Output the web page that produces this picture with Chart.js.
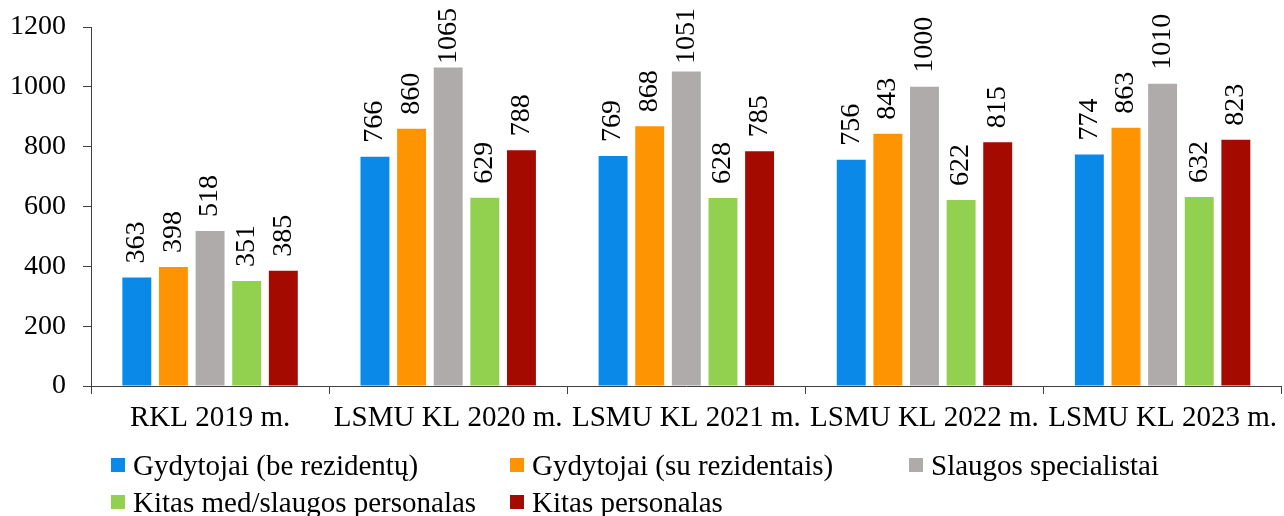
<!DOCTYPE html>
<html>
<head>
<meta charset="utf-8">
<script src="https://cdn.jsdelivr.net/npm/chart.js@4.4.1/dist/chart.umd.min.js"></script>
<style>
    body { margin: 0; background: #fff; }
    #wrap { position: relative; width: 1284px; height: 516px; }
    #legend { position: absolute; left: 0; top: 0; width: 1284px; height: 516px; pointer-events: none;
              font-family: "Liberation Serif", "Times New Roman", serif; font-size: 29px; color: #000; }
    .item { position: absolute; display: flex; align-items: center; white-space: nowrap; height: 36px; }
    .box { width: 14px; height: 14px; margin-right: 8px; }
</style>
</head>
<body>
<div id="wrap">
    <canvas id="myChart" width="1284" height="516"></canvas>
    <div id="legend"></div>
</div>
<script>
// Data
const categories = ['RKL 2019 m.', 'LSMU KL 2020 m.', 'LSMU KL 2021 m.', 'LSMU KL 2022 m.', 'LSMU KL 2023 m.'];
const seriesNames = ['Gydytojai (be rezidentų)', 'Gydytojai (su rezidentais)', 'Slaugos specialistai',
                     'Kitas med/slaugos personalas', 'Kitas personalas'];
const gydytojaiBe = [363, 766, 769, 756, 774];
const gydytojaiSu = [398, 860, 868, 843, 863];
const slaugos = [518, 1065, 1051, 1000, 1010];
const kitasMed = [351, 629, 628, 622, 632];
const kitas = [385, 788, 785, 815, 823];
const yTicks = [0, 200, 400, 600, 800, 1000, 1200];

const colors = ['#0A89E9', '#FF9402', '#AFABAB', '#92D050', '#A50A00'];
const seriesData = [gydytojaiBe, gydytojaiSu, slaugos, kitasMed, kitas];

const FONT = '"Liberation Serif", "Times New Roman", serif';
Chart.defaults.font.family = FONT;
Chart.defaults.font.size = 28;
Chart.defaults.color = '#000';

// Rotated value labels above bars
const barLabels = {
    id: 'barLabels',
    afterDatasetsDraw(chart) {
        const ctx = chart.ctx;
        ctx.save();
        ctx.font = '28px ' + FONT;
        ctx.fillStyle = '#000';
        ctx.textAlign = 'left';
        ctx.textBaseline = 'middle';
        chart.data.datasets.forEach((ds, i) => {
            chart.getDatasetMeta(i).data.forEach((bar, j) => {
                const txt = String(ds.data[j]);
                const w = ctx.measureText(txt).width;
                let start = bar.y - 14;
                if (start - w < 8) start = 8 + w;
                ctx.save();
                ctx.translate(bar.x, start);
                ctx.rotate(-Math.PI / 2);
                ctx.fillText(txt, 0, 0);
                ctx.restore();
            });
        });
        ctx.restore();
    }
};

const ctx = document.getElementById('myChart').getContext('2d');
const myChart = new Chart(ctx, {
    type: 'bar',
    data: {
        labels: categories,
        datasets: seriesData.map((d, i) => ({
            label: seriesNames[i],
            data: d,
            backgroundColor: colors[i],
            categoryPercentage: 0.769,
            barPercentage: 0.79
        }))
    },
    options: {
        responsive: false,
        animation: false,
        devicePixelRatio: 1,
        layout: { padding: { top: 27, left: 0, right: 0, bottom: 0 } },
        plugins: { legend: { display: false }, tooltip: { enabled: false } },
        scales: {
            x: {
                grid: { drawOnChartArea: false, drawTicks: true, tickLength: 8, color: '#404040', offset: true },
                border: { color: '#404040', width: 1 },
                ticks: { autoSkip: false, maxRotation: 0, padding: 7, font: { size: 29 } },
                afterFit: (scale) => { scale.height = 130; }
            },
            y: {
                min: 0,
                max: 1200,
                afterBuildTicks: (scale) => { scale.ticks = yTicks.map(v => ({ value: v })); },
                grid: { drawOnChartArea: false, drawTicks: true, tickLength: 8, color: '#404040' },
                border: { color: '#404040', width: 1 },
                ticks: { padding: 17, font: { size: 28 }, callback: (v) => String(v) },
                afterFit: (scale) => { scale.width = 91; scale.paddingTop = 0; scale.paddingBottom = 0; }
            }
        }
    },
    plugins: [barLabels]
});

// Legend (two rows, Excel-like columns)
const legendPos = [[111, 447], [510, 447], [909, 447], [111, 484], [510, 484]];
const legend = document.getElementById('legend');
seriesNames.forEach((name, i) => {
    const item = document.createElement('div');
    item.className = 'item';
    item.style.left = legendPos[i][0] + 'px';
    item.style.top = legendPos[i][1] + 'px';
    item.innerHTML = `<span class="box" style="background:${colors[i]}"></span><span>${name}</span>`;
    legend.appendChild(item);
});
</script>
</body>
</html>
